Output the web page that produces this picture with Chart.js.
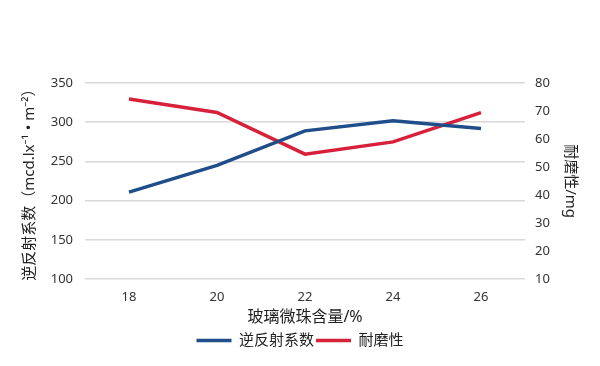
<!DOCTYPE html>
<html>
<head>
<meta charset="utf-8">
<script src="https://cdn.jsdelivr.net/npm/chart.js@4/dist/chart.umd.min.js"></script>
<style>
  html, body { margin: 0; padding: 0; background: #fff; }
  #wrap { width: 600px; height: 366px; }
</style>
</head>
<body>
<div id="wrap"><canvas id="lineChart"></canvas></div>
<script>
// Данные графика
const categories = ['18', '20', '22', '24', '26'];
const retroValues = [211, 245, 289, 302, 292];
const wearValues = [74.3, 69.5, 54.6, 59, 69.4];

const FONT = '"Noto Sans", "Noto Sans CJK SC", sans-serif';
const BLUE = '#1f4e8a';
const RED = '#d7213b';

function createLineChart() {
    const ctx = document.getElementById('lineChart').getContext('2d');
    new Chart(ctx, {
        type: 'line',
        data: {
            labels: categories,
            datasets: [
                {
                    label: '逆反射系数',
                    data: retroValues,
                    borderColor: BLUE,
                    backgroundColor: BLUE,
                    borderWidth: 3.5,
                    pointRadius: 0,
                    tension: 0,
                    yAxisID: 'y'
                },
                {
                    label: '耐磨性',
                    data: wearValues,
                    borderColor: RED,
                    backgroundColor: RED,
                    borderWidth: 3.5,
                    pointRadius: 0,
                    tension: 0,
                    yAxisID: 'y1'
                }
            ]
        },
        options: {
            responsive: true,
            maintainAspectRatio: false,
            animation: false,
            layout: {
                padding: { top: 83, left: 0, right: 0, bottom: 8 }
            },
            plugins: {
                legend: {
                    position: 'bottom',
                    labels: {
                        usePointStyle: true,
                        pointStyle: 'line',
                        pointStyleWidth: 35,
                        padding: 2,
                        color: '#222',
                        font: { family: FONT, size: 15 }
                    }
                },
                tooltip: { enabled: false }
            },
            scales: {
                x: {
                    offset: true,
                    grid: { display: false, drawTicks: false },
                    border: { display: false },
                    ticks: {
                        color: '#333',
                        padding: 10,
                        font: { family: FONT, size: 13 }
                    },
                    title: {
                        display: true,
                        text: '玻璃微珠含量/%',
                        color: '#222',
                        padding: { top: -7, bottom: 4 },
                        font: { family: FONT, size: 16 }
                    }
                },
                y: {
                    position: 'left',
                    min: 100,
                    max: 350,
                    ticks: {
                        stepSize: 50,
                        color: '#333',
                        padding: 12,
                        font: { family: FONT, size: 13 }
                    },
                    grid: { color: '#d9d9d9', lineWidth: 1.5, drawTicks: false },
                    border: { display: false },
                    title: {
                        display: true,
                        text: '逆反射系数（mcd.lx⁻¹ • m⁻²）',
                        color: '#222',
                        padding: { top: 21, bottom: 0 },
                        font: { family: FONT, size: 15 }
                    },
                    afterFit: function(scale) {
                        scale.width = 85;
                    }
                },
                y1: {
                    position: 'right',
                    min: 10,
                    max: 80,
                    ticks: {
                        stepSize: 10,
                        color: '#333',
                        padding: 10,
                        font: { family: FONT, size: 13 }
                    },
                    grid: { display: false, drawTicks: false },
                    border: { display: false },
                    title: {
                        display: true,
                        text: '耐磨性/mg',
                        color: '#222',
                        padding: { top: 21, bottom: 0 },
                        font: { family: FONT, size: 15 }
                    },
                    afterFit: function(scale) {
                        scale.width = 75;
                    }
                }
            }
        }
    });
}

document.addEventListener('DOMContentLoaded', function() {
    createLineChart();
});
</script>
</body>
</html>
